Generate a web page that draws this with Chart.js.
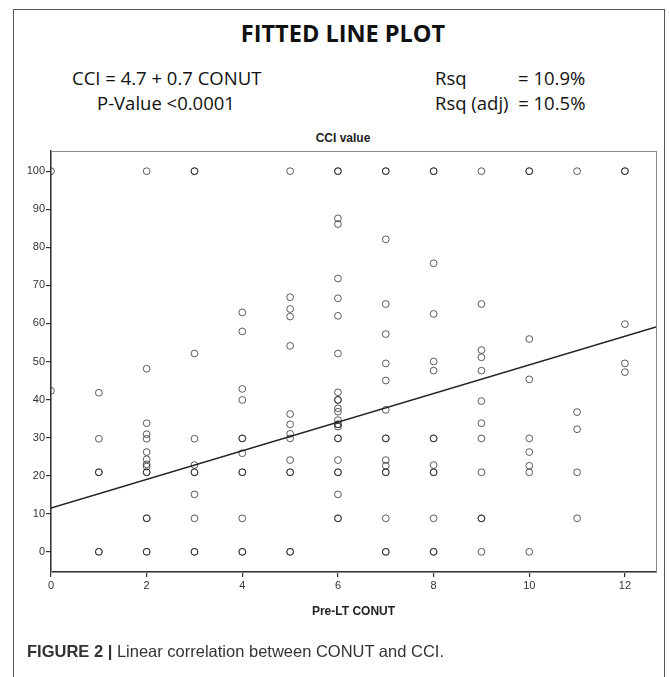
<!DOCTYPE html>
<html>
<head>
<meta charset="utf-8">
<script src="https://cdn.jsdelivr.net/npm/chart.js@4.4.1/dist/chart.umd.min.js"></script>
<style>
  body { margin: 0; background: #fff; }
  #page { position: relative; width: 669px; height: 677px; overflow: hidden; }
  #frame { position: absolute; left: 13px; top: 9px; width: 650px; height: 700px; border: 1px solid #555; }
  .t { position: absolute; white-space: nowrap; color: #111; }
  .hd { font-family: 'Open Sans', sans-serif; font-size: 18.5px; line-height: 24px; }
  canvas { position: absolute; left: 0; top: 0; }
</style>
</head>
<body>
<div id="page">
  <div id="frame"></div>
  <div class="t" style="left:0;width:686px;text-align:center;top:19px;font-family:'Open Sans',sans-serif;font-weight:bold;font-size:23.5px;line-height:28px;">FITTED LINE PLOT</div>
  <div class="t hd" style="left:72px;top:66px;">CCI = 4.7 + 0.7 CONUT</div>
  <div class="t hd" style="left:97px;top:91px;">P-Value &lt;0.0001</div>
  <div class="t hd" style="left:435px;top:66px;">Rsq</div>
  <div class="t hd" style="left:518px;top:66px;">= 10.9%</div>
  <div class="t hd" style="left:435px;top:91px;">Rsq (adj)&nbsp; = 10.5%</div>
  <div class="t" style="left:313px;width:60px;text-align:center;top:130px;font-family:'Liberation Sans',Arial,sans-serif;font-weight:bold;font-size:12px;line-height:16px;color:#222;">CCI value</div>
  <canvas id="myChart" width="669" height="677"></canvas>
  <div class="t" style="left:27px;top:641px;font-family:'Liberation Sans',Arial,sans-serif;font-size:16.5px;line-height:20px;color:#333;"><b>FIGURE 2 |</b> Linear correlation between CONUT and CCI.</div>
</div>
<script>
// data (bold circles = overlapping patients, listed twice)
var conutScores = [
  0, 0,
  1, 1, 1, 1, 1, 1,
  2, 2, 2, 2, 2, 2, 2, 2, 2, 2, 2, 2, 2, 2, 2,
  3, 3, 3, 3, 3, 3, 3, 3, 3, 3, 3,
  4, 4, 4, 4, 4, 4, 4, 4, 4, 4, 4, 4,
  5, 5, 5, 5, 5, 5, 5, 5, 5, 5, 5, 5, 5, 5,
  6, 6, 6, 6, 6, 6, 6, 6, 6, 6, 6, 6, 6, 6, 6, 6, 6, 6, 6, 6, 6, 6, 6, 6, 6,
  7, 7, 7, 7, 7, 7, 7, 7, 7, 7, 7, 7, 7, 7, 7, 7, 7,
  8, 8, 8, 8, 8, 8, 8, 8, 8, 8, 8, 8, 8, 8,
  9, 9, 9, 9, 9, 9, 9, 9, 9, 9, 9, 9,
  10, 10, 10, 10, 10, 10, 10, 10, 10,
  11, 11, 11, 11, 11,
  12, 12, 12, 12, 12
];
var cciValues = [
  100, 42.3,
  41.8, 29.7, 20.9, 20.9, 0, 0,
  100, 48.1, 33.8, 30.9, 29.7, 26.2, 24.3, 23.0, 22.4, 20.9, 20.9, 8.8, 8.8, 0, 0,
  100, 100, 52.1, 29.7, 22.8, 20.9, 20.9, 15.1, 8.8, 0, 0,
  62.9, 57.9, 42.8, 39.9, 29.8, 29.8, 25.9, 20.9, 20.9, 8.8, 0, 0,
  100, 66.9, 63.8, 61.8, 54.1, 36.2, 33.5, 31.0, 29.8, 24.1, 20.9, 20.9, 0, 0,
  100, 100, 87.6, 86.1, 71.8, 66.6, 62.0, 52.1, 41.9, 39.9, 39.9, 37.7, 36.8, 34.6, 33.5, 33.5, 32.9, 29.8, 29.8, 24.1, 20.9, 20.9, 15.1, 8.8, 8.8,
  100, 100, 82.1, 65.1, 57.2, 49.5, 45.0, 37.3, 29.8, 29.8, 24.1, 22.6, 20.9, 20.9, 8.8, 0, 0,
  100, 100, 75.8, 62.5, 50.0, 47.6, 29.8, 29.8, 22.8, 20.9, 20.9, 8.8, 0, 0,
  100, 65.1, 53.0, 51.1, 47.6, 39.6, 33.8, 29.8, 20.9, 8.8, 8.8, 0,
  100, 100, 55.9, 45.3, 29.8, 26.2, 22.6, 20.9, 0,
  100, 36.7, 32.2, 20.9, 8.8,
  100, 100, 59.8, 49.5, 47.2
];

// fitted line as drawn in the plot
var fitX = [0, 12.65];
var fitY = [11.5, 59.1];

var xTicks = [0, 2, 4, 6, 8, 10, 12];
var yTicks = [0, 10, 20, 30, 40, 50, 60, 70, 80, 90, 100];

var points = conutScores.map(function(x, i) {
  return { x: x, y: cciValues[i] };
});
var fitLine = fitX.map(function(x, i) {
  return { x: x, y: fitY[i] };
});

// light box round the plot (top and right edges)
const plotBox = {
  id: 'plotBox',
  beforeDatasetsDraw(chart) {
    const a = chart.chartArea;
    const c = chart.ctx;
    c.save();
    c.strokeStyle = '#8a8a8a';
    c.lineWidth = 1;
    c.strokeRect(a.left + 0.5, a.top + 0.5, a.right - a.left, a.bottom - a.top);
    c.restore();
  }
};

const tickFont = { family: "'Liberation Sans', Arial, sans-serif", size: 11 };

const ctx = document.getElementById('myChart').getContext('2d');
new Chart(ctx, {
  type: 'scatter',
  data: {
    datasets: [{
      label: 'Patients',
      data: points,
      pointRadius: 3.4,
      pointHoverRadius: 3.4,
      borderWidth: 1,
      borderColor: 'rgba(25, 25, 25, 0.7)',
      backgroundColor: 'rgba(0, 0, 0, 0)'
    }, {
      type: 'line',
      label: 'Fit',
      data: fitLine,
      borderColor: '#222',
      borderWidth: 1.5,
      pointRadius: 0,
      fill: false
    }]
  },
  options: {
    responsive: false,
    animation: false,
    devicePixelRatio: 1,
    layout: {
      padding: { left: 0, top: 151, right: 13, bottom: 58 }
    },
    plugins: {
      legend: { display: false },
      tooltip: { enabled: false }
    },
    scales: {
      x: {
        type: 'linear',
        min: 0,
        max: 12.65,
        afterFit: function(scale) { scale.height = 47; },
        afterBuildTicks: function(scale) {
          scale.ticks = xTicks.map(function(v) { return { value: v }; });
        },
        ticks: { font: tickFont, color: '#333', padding: 2, includeBounds: false },
        grid: { drawOnChartArea: false, tickLength: 5, color: '#333', lineWidth: 1.2 },
        border: { display: true, color: '#333', width: 1.5 },
        title: {
          display: true,
          text: 'Pre-LT CONUT',
          color: '#222',
          padding: 0,
          font: { family: "'Liberation Sans', Arial, sans-serif", size: 12, weight: 'bold' }
        }
      },
      y: {
        type: 'linear',
        min: -5.3,
        max: 105.3,
        afterFit: function(scale) { scale.width = 51; },
        afterBuildTicks: function(scale) {
          scale.ticks = yTicks.map(function(v) { return { value: v }; });
        },
        ticks: { font: tickFont, color: '#333', padding: 1, includeBounds: false },
        grid: { drawOnChartArea: false, tickLength: 5, color: '#333', lineWidth: 1.2 },
        border: { display: true, color: '#333', width: 1.5 }
      }
    }
  },
  plugins: [plotBox]
});
</script>
</body>
</html>
